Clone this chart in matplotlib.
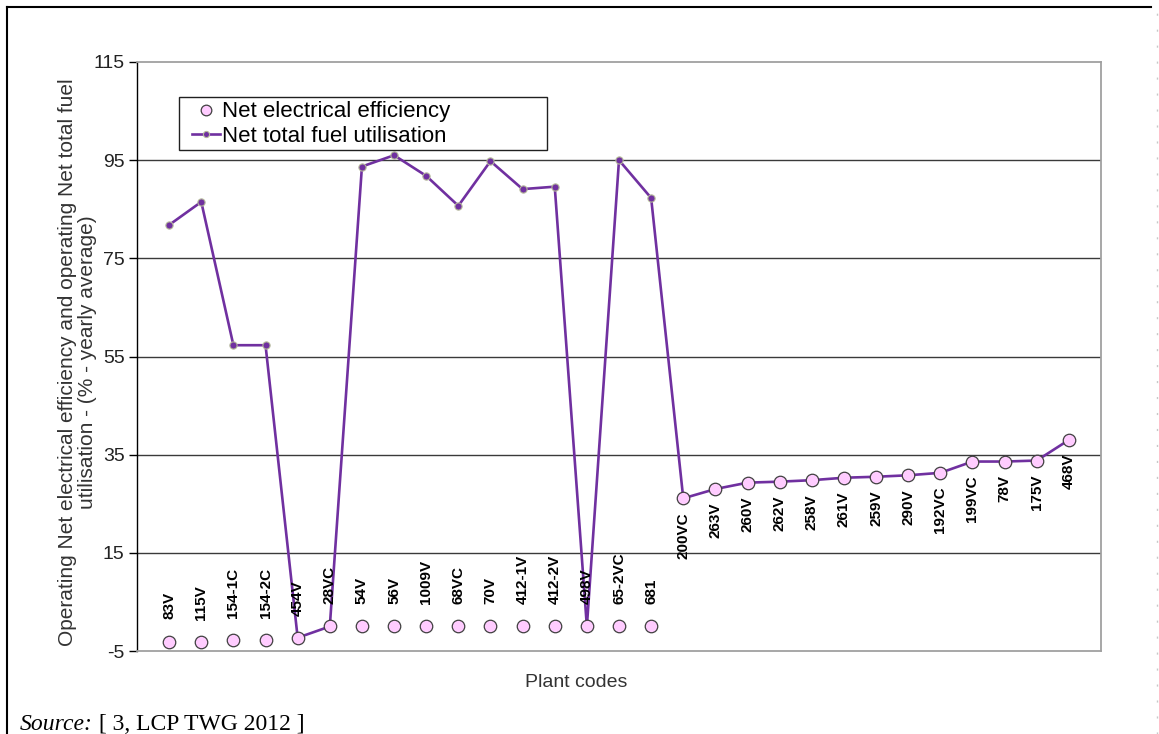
import matplotlib as mpl
mpl.use('Agg')
import matplotlib.pyplot as plt
from matplotlib.lines import Line2D
from matplotlib.patches import Rectangle
import numpy as np

plt.rcParams['font.family'] = ['Liberation Sans', 'DejaVu Sans']
plt.rcParams['axes.unicode_minus'] = False

# plant codes, in chart order
codes = ['83V', '115V', '154-1C', '154-2C', '454V', '28VC', '54V', '56V',
         '1009V', '68VC', '70V', '412-1V', '412-2V', '498V', '65-2VC', '681',
         '200VC', '263V', '260V', '262V', '258V', '261V', '259V', '290V',
         '192VC', '199VC', '78V', '175V', '468V']

# Net electrical efficiency (%)
elec_eff = [-3.1, -3.2, -2.8, -2.8, -2.3, 0, 0, 0,
            0, 0, 0, 0, 0, 0, 0, 0,
            26.1, 28.0, 29.3, 29.5, 29.8, 30.3, 30.5, 30.8,
            31.3, 33.6, 33.6, 33.8, 38.0]

# Net total fuel utilisation (%)
fuel_util = [81.8, 86.5, 57.3, 57.3, -2.3, 0, 93.7, 96.0,
             91.8, 85.7, 94.8, 89.1, 89.6, 0, 95.0, 87.3,
             26.1, 28.0, 29.3, 29.5, 29.8, 30.3, 30.5, 30.8,
             31.3, 33.6, 33.6, 33.8, 38.0]

yticks = [-5, 15, 35, 55, 75, 95, 115]

W, H = 1159, 734
fig = plt.figure(figsize=(W / 100, H / 100), dpi=100)
ax = fig.add_axes([137 / W, 1 - 651 / H, (1101 - 137) / W, (651 - 62) / H])

x = np.arange(len(codes))
purple = '#7030A0'

line, = ax.plot(x, fuel_util, color=purple, lw=1.9, marker='o', ms=5.2,
                mfc=purple, mec='#B4B89A', mew=0.8, zorder=3,
                label='Net total fuel utilisation')
dots, = ax.plot(x, elec_eff, ls='none', marker='o', ms=9, mfc='#FFCCFF',
                mec='#404040', mew=0.9, zorder=4,
                label='Net electrical efficiency')

# data labels with plant codes
for xi, e, c in zip(x, elec_eff, codes):
    if e < 15:
        ax.annotate(c, (xi, e), xytext=(0, 16), textcoords='offset points',
                    rotation=90, ha='center', va='bottom', fontsize=11,
                    fontweight='bold', color='black', zorder=5)
    else:
        ax.annotate(c, (xi, e), xytext=(0, -10), textcoords='offset points',
                    rotation=90, ha='center', va='top', fontsize=11,
                    fontweight='bold', color='black', zorder=5)

ax.set_xlim(-1, len(codes))
ax.set_ylim(-5, 115)
ax.set_yticks(yticks)
ax.set_xticks([])
ax.tick_params(axis='y', direction='out', length=6, width=1, color='black',
               labelsize=14, labelcolor='#222222', pad=3)
for y in yticks[1:-1]:
    ax.axhline(y, color='#3a3a3a', lw=1, zorder=1)

ax.spines['left'].set_color('black')
ax.spines['left'].set_linewidth(1)
for s in ['top', 'right', 'bottom']:
    ax.spines[s].set_color('#a0a0a0')
    ax.spines[s].set_linewidth(1.3)

ax.set_ylabel('Operating Net electrical efficiency and operating Net total fuel\n'
              'utilisation - (% - yearly average)', fontsize=15, color='#333333',
              linespacing=1.05)
ax.yaxis.set_label_coords((97 - 137) / 964, 0.49)
ax.set_xlabel('Plant codes', fontsize=14, color='#333333')
ax.xaxis.set_label_coords((576 - 137) / 964, (651 - 674) / 589)

# legend box drawn separately, entries placed inside it
ax.add_patch(Rectangle(((179 - 137) / 964, (651 - 150) / 589),
                       (547 - 179) / 964, 53 / 589, transform=ax.transAxes,
                       facecolor='white', edgecolor='#202020', lw=1,
                       zorder=6, clip_on=False))
leg = ax.legend(handles=[dots, line], loc='upper left',
                bbox_to_anchor=((188 - 137) / 964, (651 - 97) / 589),
                fontsize=16, frameon=False, borderpad=0.2,
                labelspacing=0.15, handlelength=1.25, handletextpad=0.1,
                borderaxespad=0, markerscale=0.85)
leg.set_zorder(7)

# source note
t1 = fig.text(20 / W, 4 / H, 'Source:', fontsize=17, fontstyle='italic',
              family='Liberation Serif', va='baseline', ha='left')
ax.annotate(' [ 3, LCP TWG 2012 ]', xy=(1, 0), xycoords=t1, ha='left',
            va='bottom', fontsize=17, family='Liberation Serif',
            annotation_clip=False)

# page frame lines
fig.add_artist(Line2D([7 / W, 1151 / W], [1 - 7 / H, 1 - 7 / H],
                      color='black', lw=1.5, transform=fig.transFigure))
fig.add_artist(Line2D([7 / W, 7 / W], [0, 1 - 7 / H],
                      color='black', lw=1.5, transform=fig.transFigure))
fig.add_artist(Line2D([1156.5 / W, 1156.5 / W], [0, 1 - 12 / H],
                      color='#c8c8c8', lw=1, ls=(0, (1.5, 10)),
                      transform=fig.transFigure))

fig.savefig('out.png', dpi=100)
